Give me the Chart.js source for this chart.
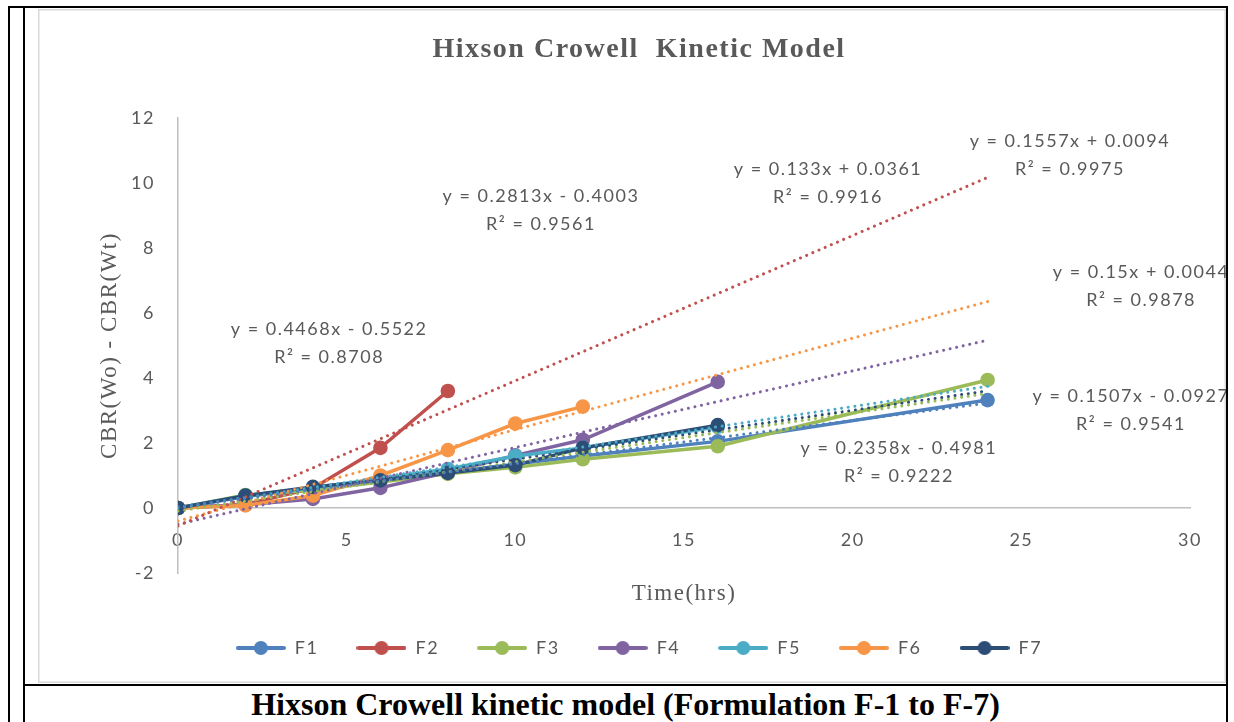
<!DOCTYPE html>
<html>
<head>
<meta charset="utf-8">
<script src="https://cdn.jsdelivr.net/npm/chart.js@4.4.1/dist/chart.umd.min.js"></script>
<style>
  html, body { margin: 0; padding: 0; background: #fff; }
  body { position: relative; width: 1234px; height: 722px; overflow: hidden; }
  .rule { position: absolute; background: #000; }
  #frame { position: absolute; left: 38px; top: 9px; width: 1188px; height: 674px; }
  #caption {
    position: absolute; left: 25px; top: 686px; width: 1201px; height: 36px;
    display: flex; align-items: center; justify-content: center;
    font-family: "Liberation Serif", serif; font-weight: bold; font-size: 32px; color: #000;
  }
</style>
</head>
<body>
<div class="rule" style="left:8px;top:6px;width:2px;height:716px"></div>
<div class="rule" style="left:8px;top:6px;width:1220px;height:2px"></div>
<div class="rule" style="left:23px;top:6px;width:2px;height:716px"></div>
<div class="rule" style="left:1226px;top:6px;width:2px;height:716px"></div>
<div class="rule" style="left:23px;top:684px;width:1205px;height:2px"></div>
<div id="frame"><canvas id="chart" width="1188" height="674"></canvas></div>
<div id="caption">Hixson Crowell kinetic model (Formulation F-1 to F-7)</div>

<script>
// Sampling times (hours); each series uses the leading part of this list.
const TIME_HRS = [0, 2, 4, 6, 8, 10, 12, 16, 24];

const SERIES_NAMES = ['F1', 'F2', 'F3', 'F4', 'F5', 'F6', 'F7'];

// CBR(Wo) - CBR(Wt) for each formulation
const F1 = [0, 0.35, 0.6, 0.85, 1.1, 1.35, 1.6, 2.05, 3.32];
const F2 = [0, 0.11, 0.61, 1.85, 3.6];
const F3 = [0, 0.4, 0.55, 0.8, 1.05, 1.25, 1.5, 1.9, 3.94];
const F4 = [0, 0.1, 0.28, 0.62, 1.1, 1.62, 2.1, 3.88];
const F5 = [0, 0.38, 0.62, 0.9, 1.2, 1.6, 1.85, 2.5];
const F6 = [0, 0.08, 0.38, 1.0, 1.78, 2.6, 3.12];
const F7 = [0, 0.38, 0.65, 0.85, 1.08, 1.32, 1.85, 2.55];

// Linear trendlines (y = slope * x + intercept) and their R² values
const SLOPE     = [0.133, 0.4468, 0.1507, 0.2358, 0.1557, 0.2813, 0.15];
const INTERCEPT = [0.0361, -0.5522, -0.0927, -0.4981, 0.0094, -0.4003, 0.0044];
const R_SQUARED = [0.9916, 0.8708, 0.9541, 0.9222, 0.9975, 0.9561, 0.9878];
const TREND_FROM = 0;
const TREND_TO = 24;

// Axis ranges and tick steps
const X_MIN = 0, X_MAX = 30, X_STEP = 5;
const Y_MIN = -2, Y_MAX = 12, Y_STEP = 2;

// ---- styling / layout ----
const COLORS = ['#4F81BD', '#C0504D', '#9BBB59', '#8064A2', '#4BACC6', '#F79646', '#2C4D75'];
const TEXT_GREY = '#595959';
const SANS = 'Lato';
const SERIF = 'Liberation Serif';
const LETTER_SPACING = '1.5px';

// Where each trendline equation sits (axis units, centre of the two-line block)
const EQ_LABEL_POS = [
  { x: 19.27, y: 10.0 },
  { x: 4.48, y: 5.08 },
  { x: 28.25, y: 3.02 },
  { x: 21.37, y: 1.42 },
  { x: 26.44, y: 10.85 },
  { x: 10.76, y: 9.15 },
  { x: 28.55, y: 6.82 }
];

const SERIES_VALUES = [F1, F2, F3, F4, F5, F6, F7];

function equationText(i) {
  const b = INTERCEPT[i];
  return 'y = ' + SLOPE[i] + 'x ' + (b < 0 ? '- ' : '+ ') + Math.abs(b);
}

function legendSwatch(color) {
  const c = document.createElement('canvas');
  c.width = 50; c.height = 16;
  const g = c.getContext('2d');
  g.strokeStyle = color; g.lineWidth = 4; g.lineCap = 'round';
  g.beginPath(); g.moveTo(2, 8); g.lineTo(48, 8); g.stroke();
  g.fillStyle = color;
  g.beginPath(); g.arc(25, 8, 7, 0, Math.PI * 2); g.fill();
  return c;
}
const SWATCHES = COLORS.map(legendSwatch);

const dataSets = SERIES_VALUES.map((vals, i) => ({
  label: SERIES_NAMES[i],
  data: vals.map((v, k) => ({ x: TIME_HRS[k], y: v })),
  borderColor: COLORS[i],
  backgroundColor: COLORS[i],
  borderWidth: 3.5,
  pointRadius: 7.3,
  pointHoverRadius: 7.3,
  pointBorderWidth: 0,
  pointBackgroundColor: COLORS[i],
  tension: 0,
  order: 1 + (SERIES_VALUES.length - 1 - i)
}));

const trendSets = SERIES_VALUES.map((vals, i) => ({
  label: SERIES_NAMES[i] + ' trend',
  data: [TREND_FROM, TREND_TO].map(x => ({ x: x, y: SLOPE[i] * x + INTERCEPT[i] })),
  borderColor: COLORS[i],
  borderWidth: 3,
  borderDash: [0.01, 6.7],
  borderCapStyle: 'round',
  pointRadius: 0,
  pointHoverRadius: 0,
  fill: false,
  order: 0
}));

const spacingPlugin = {
  id: 'letterSpacing',
  beforeLayout(chart) { chart.ctx.letterSpacing = LETTER_SPACING; },
  beforeDraw(chart) { chart.ctx.letterSpacing = LETTER_SPACING; }
};

const framePlugin = {
  id: 'frame',
  beforeDraw(chart) {
    const { ctx, width, height } = chart;
    ctx.save();
    ctx.fillStyle = '#ffffff';
    ctx.fillRect(0, 0, width, height);
    ctx.strokeStyle = '#d9d9d9';
    ctx.lineWidth = 1.5;
    ctx.strokeRect(0.75, 0.75, width - 1.5, height - 1.5);
    ctx.restore();
  }
};

const equationPlugin = {
  id: 'equations',
  afterDatasetsDraw(chart) {
    const { ctx, scales: { x, y } } = chart;
    ctx.save();
    ctx.letterSpacing = LETTER_SPACING;
    ctx.font = '18px ' + SANS;
    ctx.fillStyle = TEXT_GREY;
    ctx.textAlign = 'center';
    ctx.textBaseline = 'middle';
    EQ_LABEL_POS.forEach((p, i) => {
      const px = x.getPixelForValue(p.x);
      const py = y.getPixelForValue(p.y);
      ctx.fillText(equationText(i), px, py - 14);
      ctx.fillText('R\u00B2 = ' + R_SQUARED[i], px, py + 14);
    });
    ctx.restore();
  }
};

function build() {
  new Chart(document.getElementById('chart'), {
    type: 'line',
    data: { datasets: dataSets.concat(trendSets) },
    plugins: [spacingPlugin, framePlugin, equationPlugin],
    options: {
      responsive: false,
      devicePixelRatio: 1,
      animation: false,
      events: [],
      layout: { padding: { left: 50, right: 36, top: 0, bottom: 16 } },
      plugins: {
        tooltip: { enabled: false },
        title: {
          display: true,
          text: 'Hixson Crowell  Kinetic Model',
          color: TEXT_GREY,
          font: { family: SERIF, size: 28, weight: 'bold', lineHeight: 1.2 },
          padding: { top: 24.2, bottom: 51.2 }
        },
        legend: {
          display: true,
          position: 'bottom',
          title: { display: true, text: ' ', font: { size: 10, lineHeight: 1 }, padding: { top: 18, bottom: 0 } },
          labels: {
            usePointStyle: true,
            pointStyleWidth: 50,
            padding: 38,
            color: TEXT_GREY,
            font: { family: SANS, size: 18 },
            generateLabels(chart) {
              const items = Chart.defaults.plugins.legend.labels.generateLabels(chart)
                .filter(it => it.datasetIndex < SERIES_NAMES.length)
                .sort((a, b) => a.datasetIndex - b.datasetIndex);
              items.forEach(it => { it.pointStyle = SWATCHES[it.datasetIndex]; });
              return items;
            }
          }
        }
      },
      scales: {
        x: {
          type: 'linear',
          position: { y: 0 },
          min: X_MIN, max: X_MAX,
          ticks: { stepSize: X_STEP, padding: 21, color: TEXT_GREY, font: { family: SANS, size: 18 } },
          grid: { display: false, drawTicks: false },
          border: { display: true, color: '#bfbfbf', width: 1.5 },
          title: {
            display: true, text: 'Time(hrs)', color: TEXT_GREY,
            font: { family: SERIF, size: 23 }, padding: { top: 8.6, bottom: 0 }
          }
        },
        y: {
          type: 'linear',
          position: 'left',
          min: Y_MIN, max: Y_MAX,
          ticks: { stepSize: Y_STEP, padding: 23, color: TEXT_GREY, font: { family: SANS, size: 18 } },
          grid: { display: false, drawTicks: false },
          border: { display: true, color: '#bfbfbf', width: 1.5 },
          title: {
            display: true, text: 'CBR(Wo) - CBR(Wt)', color: TEXT_GREY,
            font: { family: SERIF, size: 23 }, padding: { top: 8.2, bottom: 0 }
          },
          afterFit(scale) { scale.width = 90; }
        }
      }
    }
  });
}

Promise.all([
  document.fonts.load('18px Lato'),
  document.fonts.load('bold 28px "Liberation Serif"'),
  document.fonts.load('23px "Liberation Serif"')
]).then(build, build);
</script>
</body>
</html>
